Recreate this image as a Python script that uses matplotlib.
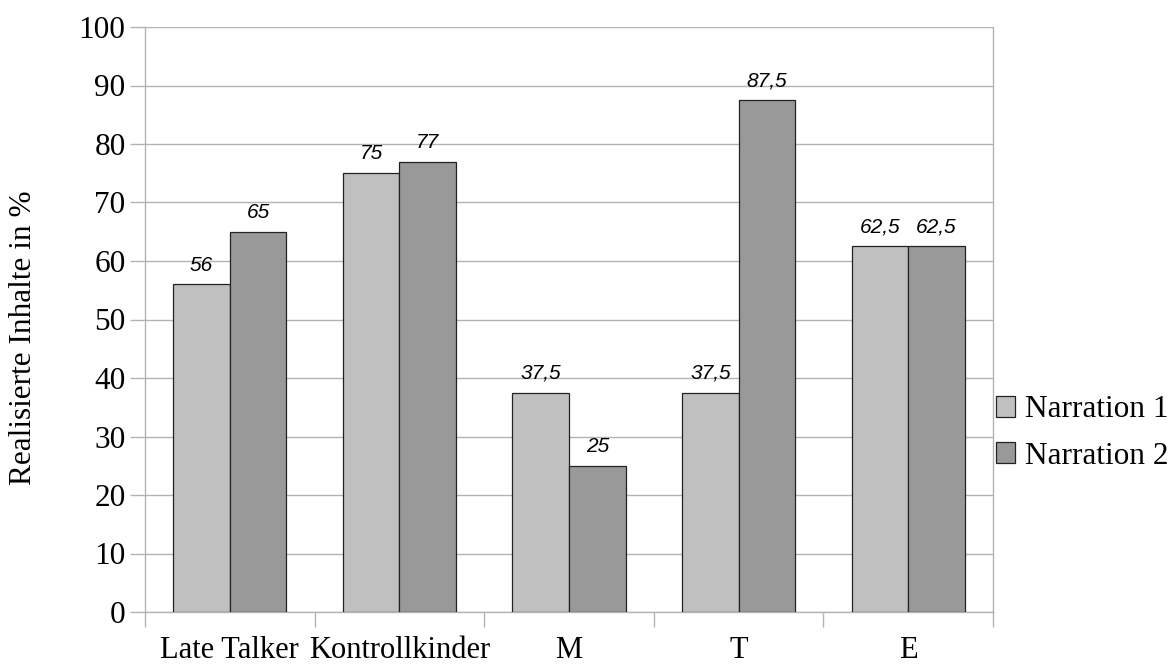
import matplotlib
matplotlib.use("Agg")
import matplotlib.pyplot as plt
import numpy as np
from matplotlib.patches import Patch

plt.rcParams["font.family"] = "Liberation Serif"

categories = ["Late Talker", "Kontrollkinder", "M", "T", "E"]
narration1 = [56, 75, 37.5, 37.5, 62.5]
narration2 = [65, 77, 25, 87.5, 62.5]
series_names = ["Narration 1", "Narration 2"]
colors = ["#c0c0c0", "#999999"]

fig = plt.figure(figsize=(11.75, 6.64), dpi=100)
ax = fig.add_axes([145 / 1175, 1 - 612 / 664, 848 / 1175, 585 / 664])

x = np.arange(len(categories))
w = 1 / 3
grid_c = "#b3b3b3"


def fmt(v):
    return f"{v:g}".replace(".", ",")


for i, (vals, c) in enumerate(zip([narration1, narration2], colors)):
    pos = x - w / 2 + i * w
    ax.bar(pos, vals, width=w, color=c, edgecolor="#222222", linewidth=0.9, zorder=3)
    for p, v in zip(pos, vals):
        ax.annotate(fmt(v), (p, v), xytext=(0, 10), textcoords="offset points",
                    ha="center", va="baseline", fontsize=15, style="italic",
                    family="Liberation Sans", zorder=4)

ax.set_xlim(-0.5, len(categories) - 0.5)
ax.set_ylim(0, 100)
ax.set_yticks(range(0, 101, 10))
ax.yaxis.grid(True, color=grid_c, linewidth=1)
ax.set_axisbelow(True)

# group boundaries get the tick marks, group centres get the labels
ax.set_xticks(np.arange(-0.5, len(categories), 1))
ax.set_xticklabels([])
ax.set_xticks(x, minor=True)
ax.set_xticklabels(categories, minor=True)
ax.tick_params(axis="x", which="major", length=11, color=grid_c, width=1)
ax.tick_params(axis="x", which="minor", length=0, pad=17, labelsize=22)
ax.tick_params(axis="y", length=11, color=grid_c, width=1, labelsize=22.5, pad=3)

ax.spines["top"].set_visible(False)
for s in ["left", "right", "bottom"]:
    ax.spines[s].set_color(grid_c)
    ax.spines[s].set_linewidth(1)

fig.text(24 / 1175, 1 - 338 / 664, "Realisierte Inhalte in %", rotation=90,
         ha="center", va="center", fontsize=22.5)

handles = [Patch(facecolor=c, edgecolor="#222222", linewidth=0.9) for c in colors]
fig.legend(handles, series_names, loc="center left", bbox_to_anchor=(996 / 1175, 1 - 433 / 664),
           frameon=False, fontsize=22.5, handlelength=0.62, handleheight=0.62,
           handletextpad=0.3, borderpad=0, borderaxespad=0, labelspacing=0.55)

fig.savefig("out.png")
